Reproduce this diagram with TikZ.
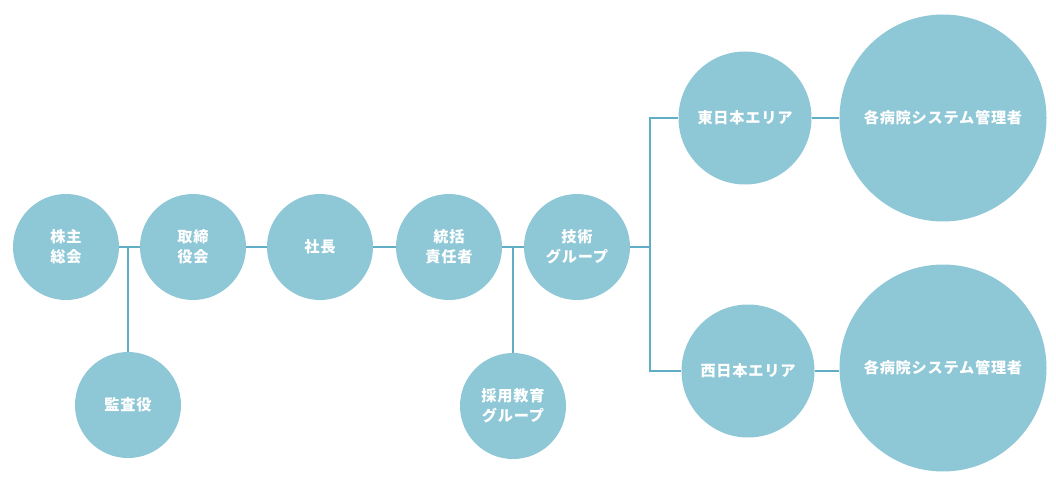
\documentclass[tikz,border=0pt]{standalone}
\usepackage{fontspec}
\newfontfamily\cjk{Noto Sans CJK JP}[LetterSpace=5]
\definecolor{circ}{RGB}{142,199,213}
\definecolor{conn}{RGB}{96,174,197}
\begin{document}
\begin{tikzpicture}[x=1pt,y=-1pt,
  org/.style={circle,fill=circ,draw=none,inner sep=0pt,minimum size=#1,
    text=white,font=\cjk\bfseries\fontsize{15.2}{20}\selectfont,align=center},
  link/.style={draw=conn,line width=1.4pt}]
\useasboundingbox (0,0) rectangle (1056,489);
\node[org=106pt] (kabu) at (66,247) {株主\\総会};
\node[org=106pt] (tori) at (193,247) {取締\\役会};
\node[org=106pt] (sha) at (320,247) {社長};
\node[org=106pt] (tou) at (449,247) {統括\\責任者};
\node[org=106pt] (gi) at (577,247) {技術\\グループ};
\node[org=106pt] (kan) at (128,405) {監査役};
\node[org=106pt] (sai) at (513,406) {採用教育\\グループ};
\node[org=133pt] (east) at (745,118) {東日本エリア};
\node[org=133pt] (west) at (748,371) {西日本エリア};
\node[org=207pt] (he) at (943,118) {各病院システム管理者};
\node[org=207pt] (hw) at (943,368) {各病院システム管理者};
\coordinate (j1) at (128,247);
\coordinate (j2) at (513,247);
\coordinate (j3) at (650,247);
\draw[link] (kabu.east) -- (tori.west);
\draw[link] (j1) -- (kan.north);
\draw[link] (tori.east) -- (sha.west);
\draw[link] (sha.east) -- (tou.west);
\draw[link] (tou.east) -- (gi.west);
\draw[link] (j2) -- (sai.north);
\draw[link] (gi.east) -- (j3);
\draw[link] (j3) |- (east.west);
\draw[link] (j3) |- (west.west);
\draw[link] (east.east) -- (he.west |- east.east);
\draw[link] (west.east) -- (hw.west |- west.east);
\end{tikzpicture}
\end{document}
